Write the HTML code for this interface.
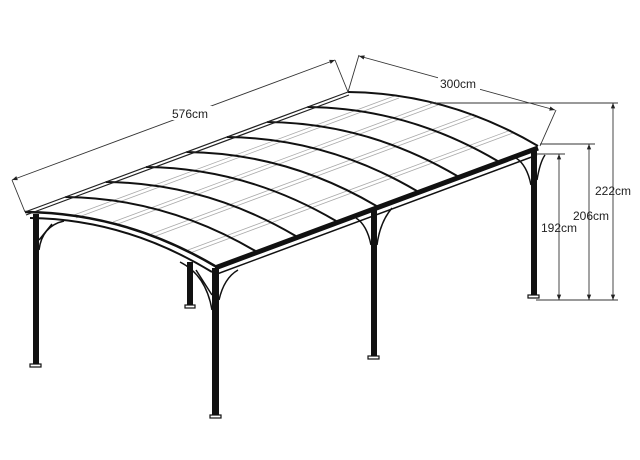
<!DOCTYPE html>
<html><head><meta charset="utf-8"><style>
html,body{margin:0;padding:0;background:#fff;}
svg{display:block;}
text{font-family:"Liberation Sans",sans-serif;font-size:12px;fill:#222;}
</style></head><body>
<svg width="640" height="460" viewBox="0 0 640 460" xmlns="http://www.w3.org/2000/svg">
<defs>
<marker id="ar" viewBox="0 0 10 10" refX="10" refY="5" markerWidth="8" markerHeight="6" orient="auto-start-reverse"><path d="M0,1 L10,5 L0,9 z" fill="#222"/></marker>
<path id="arch" d="M25,212 Q125,213 215,266" fill="none" stroke="#111" stroke-width="2"/>
</defs>
<g stroke="#aaa" stroke-width="0.8" fill="none">
<path d="M74,215 l323,-120 M76,218 l323,-120"/>
<path d="M113,222 l323,-120 M115,225 l323,-120"/>
<path d="M151,234 l323,-120 M153,237 l323,-120"/>
<path d="M188,250 l323,-120 M190,253 l323,-120"/>
</g>
<use href="#arch" transform="translate(40.4,-15)"/>
<use href="#arch" transform="translate(80.75,-30)"/>
<use href="#arch" transform="translate(121.1,-45)"/>
<use href="#arch" transform="translate(161.5,-60)"/>
<use href="#arch" transform="translate(201.9,-75)"/>
<use href="#arch" transform="translate(242.25,-90)"/>
<use href="#arch" transform="translate(282.6,-105)"/>
<use href="#arch" transform="translate(323,-120)"/>
<path d="M25,212 Q125,213 215,266" fill="none" stroke="#111" stroke-width="2.5"/>
<path d="M30,218 Q125,219 212,272" fill="none" stroke="#111" stroke-width="2"/>
<path d="M25,212 L348,92" stroke="#222" stroke-width="1.2"/>
<path d="M26,215 L349,95" stroke="#222" stroke-width="1.2"/>
<path d="M215,268 L538,148" stroke="#111" stroke-width="5"/>
<path d="M217,274 L537,155" stroke="#111" stroke-width="1.5"/>
<g fill="#111">
<rect x="33" y="214" width="6" height="151"/>
<rect x="187" y="262" width="6" height="45"/>
<rect x="212" y="268" width="7" height="149"/>
<rect x="371" y="208" width="6" height="150"/>
<rect x="531" y="148" width="6" height="149"/>
</g>
<g fill="#fff" stroke="#111" stroke-width="1.2">
<rect x="30" y="364" width="11" height="3"/>
<rect x="185" y="305" width="10" height="3"/>
<rect x="210" y="415" width="11" height="3"/>
<rect x="368" y="356" width="11" height="3"/>
<rect x="528" y="295" width="11" height="3"/>
</g>
<g fill="none" stroke="#111" stroke-width="1.5">
<path d="M39,250 Q42,226 64,221 M39,240 L52,224"/>
<path d="M212,310 Q206,275 180,262 M212,295 L196,270"/>
<path d="M219,300 Q224,278 238,270"/>
<path d="M371,245 Q367,225 356,218 M377,245 Q380,222 392,208"/>
<path d="M531,185 Q527,165 516,158 M537,180 Q540,162 545,155"/>
</g>
<g stroke="#333" stroke-width="0.9" fill="none">
<path d="M12,180 L25,212 M335,60 L348,92 M359,55 L348,92 M556,110 L540,146"/>
<path d="M12,180 L335,60" marker-start="url(#ar)" marker-end="url(#ar)"/>
<path d="M359,56 L555,110" marker-start="url(#ar)" marker-end="url(#ar)"/>
<path d="M430,103 L618,103 M540,144 L595,144 M537,154 L565,154 M536,300 L618,300"/>
<path d="M613,103 L613,300" marker-start="url(#ar)" marker-end="url(#ar)"/>
<path d="M589,144 L589,300" marker-start="url(#ar)" marker-end="url(#ar)"/>
<path d="M559,154 L559,300" marker-start="url(#ar)" marker-end="url(#ar)"/>
</g>
<g>
<rect x="170" y="106" width="42" height="14" fill="#fff"/>
<text x="172" y="118">576cm</text>
<rect x="438" y="76" width="42" height="14" fill="#fff"/>
<text x="440" y="88">300cm</text>
<text x="595" y="195">222cm</text>
<text x="573" y="220">206cm</text>
<text x="541" y="232">192cm</text>
</g>
</svg>
</body></html>
